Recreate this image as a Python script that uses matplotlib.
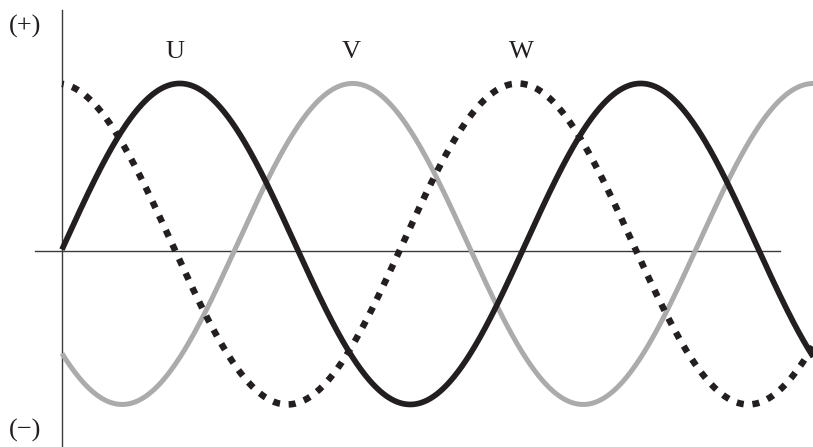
#!/usr/bin/env python3

import numpy as np

import matplotlib
matplotlib.use('Agg')
import matplotlib.pyplot as plt

# three phase curves (degrees of phase lag, amplitude)
phases = ['U', 'V', 'W']
phase_lag = [2.0, 137.0, 266.0]
amplitude = [1.0, 1.0, 1.0]
centre = 0.044
label_x = [88.0, 226.0, 359.0]
label_y = 1.24
sign_labels = ['(+)', '(\u2212)']
sign_y = [1.40, -1.12]

x_start, x_end = 0.0, 587.0

if __name__ == "__main__":
    plt.rcParams['font.family'] = ['Liberation Serif', 'DejaVu Serif']

    fig = plt.figure(figsize=(8.13, 4.47), dpi=100)
    ax = fig.add_axes([0, 0, 1, 1])
    ax.set_xlim(-48.4, 586.5)
    ax.set_ylim(-1.221, 1.564)
    ax.axis('off')

    theta = np.linspace(x_start, x_end, 2000)
    styles = {
        'U': dict(color='#231f20', lw=4.1, ls='-', zorder=4),
        'V': dict(color='#ababab', lw=3.6, ls='-', zorder=2),
        'W': dict(color='#231f20', lw=4.7, ls=(0.8, (1.08, 1.34)),
                  dash_capstyle='butt', zorder=3),
    }
    for name, lag, amp in zip(phases, phase_lag, amplitude):
        y = centre + amp * np.sin(np.radians(theta - lag))
        ax.plot(theta, y, solid_capstyle='butt', **styles[name])

    # axes
    ax.plot([0, 0], [-1.221, 1.50], color='#3a3a3a', lw=1.0, zorder=1)
    ax.plot([-21.1, 560.7], [0, 0], color='#3a3a3a', lw=1.0, zorder=1)

    for name, lx in zip(phases, label_x):
        ax.text(lx, label_y, name, fontsize=19, ha='center', va='center',
                color='#231f20')
    for s, sy in zip(sign_labels, sign_y):
        ax.text(-29.0, sy, s, fontsize=19, ha='center', va='center',
                color='#231f20')

    fig.savefig('out.png', dpi=100)
